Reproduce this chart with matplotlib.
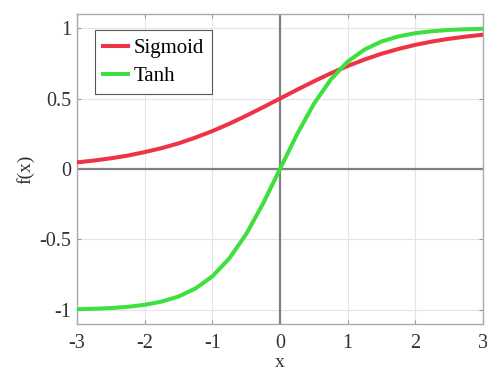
import matplotlib
matplotlib.use("Agg")
import matplotlib.pyplot as plt

x_vals = [-3.0, -2.75, -2.5, -2.25, -2.0, -1.75, -1.5, -1.25, -1.0, -0.75, -0.5, -0.25,
          0.0, 0.25, 0.5, 0.75, 1.0, 1.25, 1.5, 1.75, 2.0, 2.25, 2.5, 2.75, 3.0]
sigmoid_vals = [0.047, 0.060, 0.076, 0.095, 0.120, 0.148, 0.182, 0.223, 0.269, 0.321, 0.378, 0.438,
                0.500, 0.562, 0.622, 0.679, 0.731, 0.777, 0.818, 0.852, 0.881, 0.905, 0.924, 0.940, 0.953]
tanh_vals = [-0.995, -0.992, -0.987, -0.978, -0.964, -0.941, -0.905, -0.848, -0.762, -0.635, -0.462, -0.245,
             0.0, 0.245, 0.462, 0.635, 0.762, 0.848, 0.905, 0.941, 0.964, 0.978, 0.987, 0.992, 0.995]
x_ticks = [-3, -2, -1, 0, 1, 2, 3]
y_ticks = [-1, -0.5, 0, 0.5, 1]
y_tick_labels = ["-1", "-0.5", "0", "0.5", "1"]

plt.rcParams["font.family"] = ["Liberation Serif", "DejaVu Serif"]
plt.rcParams["axes.unicode_minus"] = False

fig = plt.figure(figsize=(4.87, 3.74), dpi=100)
ax = fig.add_axes([77 / 487, 50 / 374, 406 / 487, 310 / 374])

ax.grid(True, color="#e4e4e4", linewidth=0.8)
ax.set_axisbelow(True)
ax.axhline(0, color="#808080", linewidth=1.6, zorder=1)
ax.axvline(0, color="#808080", linewidth=1.6, zorder=1)

ax.plot(x_vals, sigmoid_vals, color="#ee3347", linewidth=2.9, label="Sigmoid", zorder=3)
ax.plot(x_vals, tanh_vals, color="#3de03d", linewidth=2.9, label="Tanh", zorder=3)

ax.set_xlim(-3, 3)
ax.set_ylim(-1.1, 1.1)
ax.set_xticks(x_ticks)
ax.set_yticks(y_ticks)
ax.set_yticklabels(y_tick_labels)
ax.tick_params(direction="in", length=3, color="#999999", labelsize=14.5,
               top=True, right=True, labelcolor="#333333")
ax.tick_params(axis="x", pad=7)
ax.tick_params(axis="y", pad=4)
for s in ax.spines.values():
    s.set_color("#aaaaaa")
    s.set_linewidth(1.0)

ax.set_xlabel("x", fontsize=14, color="#333333")
ax.xaxis.set_label_coords(0.5, -0.098)
ax.set_ylabel("f(x)", fontsize=14, color="#333333", labelpad=4)

leg = ax.legend(loc="upper left", bbox_to_anchor=(0.044, 0.948), borderaxespad=0, fontsize=15,
                handlelength=1.2, handletextpad=0.25, borderpad=0.4, labelspacing=0.4,
                fancybox=False, framealpha=1, edgecolor="#555555")
leg.get_frame().set_linewidth(0.8)

fig.savefig("out.png", dpi=100)
